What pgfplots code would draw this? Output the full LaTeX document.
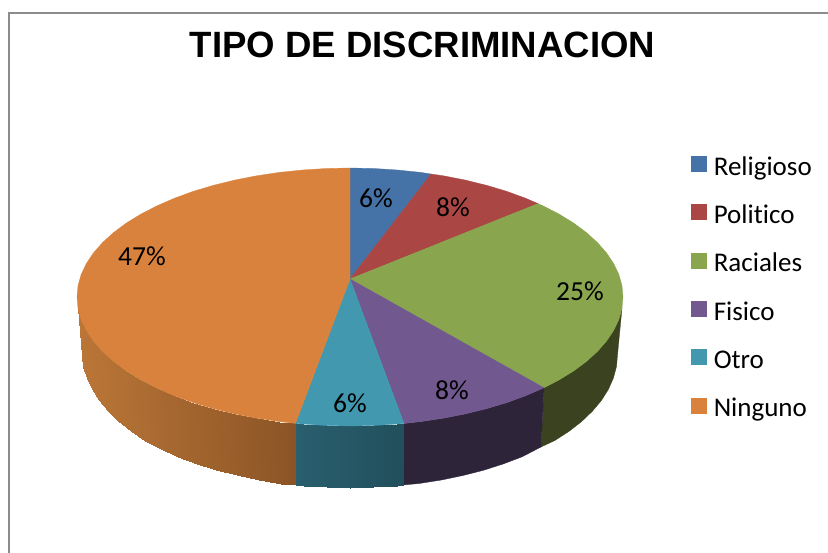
\documentclass[border=0pt]{standalone}
\usepackage{fontspec}
\setmainfont{Carlito}[Ligatures=NoCommon]
\setsansfont{Liberation Sans}
\usepackage{pgfplots}
\pgfplotsset{compat=1.18}
\definecolor{cRel}{HTML}{4572A7}
\definecolor{cPol}{HTML}{AA4643}
\definecolor{cRac}{HTML}{89A54E}
\definecolor{cFis}{HTML}{71588F}
\definecolor{cOtr}{HTML}{4198AF}
\definecolor{cNin}{HTML}{D9823D}
\definecolor{wRac}{HTML}{3A421F}
\definecolor{wFis}{HTML}{2E2439}
\begin{document}
\begin{tikzpicture}
\useasboundingbox (0,0) rectangle (828pt,553pt);
\begin{axis}[
  at={(0,0)}, anchor=south west,
  scale only axis, width=828pt, height=553pt,
  xmin=0, xmax=828, ymin=0, ymax=553, y dir=reverse,
  hide axis, clip=true,
  colormap={wall}{rgb255(0)=(186,118,55); rgb255(100)=(139,84,38); rgb255(101)=(42,95,111); rgb255(200)=(33,79,91)},
  point meta min=0, point meta max=200,
  legend style={at={(axis cs:691,156)}, anchor=north west, draw=none, fill=none,
    inner sep=0pt, outer sep=0pt, row sep=23.2pt, column sep=7.5pt,
    font=\fontsize{27}{27}\selectfont,
    nodes={inner sep=0pt, outer sep=0pt, text height=18pt, text depth=6pt}},
  legend cell align=left,
  legend image code/.code={\fill[#1] (0pt,-2pt) rectangle (15pt,13pt);},
]
% frame
\addplot[forget plot, color=black!45, line width=1.6pt] coordinates {(9,553) (9,13) (828,13)};
% walls
\addplot[forget plot, fill=wRac, draw=wRac, line width=0.3pt] coordinates {(622,308.2) (618.9,319.4) (613.7,330.4) (606.5,341.1) (597.4,351.5) (586.4,361.5) (573.6,371) (559.1,379.9) (544,387.8) (541,447) (554.9,440.5) (569.1,431.3) (581.7,421.5) (592.4,411.2) (601.4,400.5) (608.4,389.4) (613.4,378.1) (616.5,366.6) (617.5,355)} --cycle;
\addplot[forget plot, fill=wFis, draw=wFis, line width=0.3pt] coordinates {(544,387.8) (525.5,395.8) (506.6,402.7) (486.5,408.7) (465.4,413.9) (443.4,418.2) (420.7,421.6) (404,423.5) (403,485) (419.2,483.5) (441.5,480) (463,475.5) (483.8,470.2) (503.4,463.9) (521.9,456.9) (541,447)} --cycle;
\addplot[forget plot, patch, patch type=rectangle, shader=interp, point meta=explicit] table[meta=c] {
x y c
78 308.2 0
78 308.2 0
83.5 366.6 0
82.5 355 0
78 308.2 0
81.1 319.4 1.4
86.6 378.1 1.4
83.5 366.6 0
81.1 319.4 1.4
86.3 330.4 3.8
91.6 389.4 3.8
86.6 378.1 1.4
86.3 330.4 3.8
93.5 341.1 7
98.6 400.5 7
91.6 389.4 3.8
93.5 341.1 7
102.6 351.5 11
107.6 411.2 11
98.6 400.5 7
102.6 351.5 11
113.6 361.5 16
118.3 421.5 16
107.6 411.2 11
113.6 361.5 16
126.4 371 22
130.9 431.3 22
118.3 421.5 16
126.4 371 22
140.9 379.9 29
145.1 440.5 29
130.9 431.3 22
140.9 379.9 29
157 388.2 36
160.8 449 36
145.1 440.5 29
157 388.2 36
174.5 395.8 44
178.1 456.9 44
160.8 449 36
174.5 395.8 44
193.4 402.7 53
196.6 463.9 53
178.1 456.9 44
193.4 402.7 53
213.5 408.7 62
216.2 470.2 62
196.6 463.9 53
213.5 408.7 62
234.6 413.9 72
237 475.5 72
216.2 470.2 62
234.6 413.9 72
256.6 418.2 82
258.5 480 82
237 475.5 72
256.6 418.2 82
279.3 421.6 92
280.8 483.5 92
258.5 480 82
279.3 421.6 92
295.5 423.4 100
296 484.9 100
280.8 483.5 92
295.5 423.4 101
302.6 424 110
303.5 486 110
296 484.9 101
302.6 424 110
326.2 425.5 130
326.7 487.5 130
303.5 486 110
326.2 425.5 130
350 426 150
350 488 150
326.7 487.5 130
350 426 150
373.8 425.5 170
373.3 487.5 170
350 488 150
373.8 425.5 170
397.4 424 190
396.5 486 190
373.3 487.5 170
397.4 424 190
404 423.5 200
403 485 200
396.5 486 190
};
% top slices
\addplot[fill=cRel, draw=cRel, line width=0.3pt] coordinates {(350,279) (350,168) (373.8,168.5) (397.4,170) (420.7,172.4) (431,174)} --cycle;
\addplot[fill=cPol, draw=cPol, line width=0.3pt] coordinates {(350,279) (431,174) (443.4,175.8) (465.4,180.1) (486.5,185.3) (506.6,191.3) (525.5,198.2) (538,203.6)} --cycle;
\addplot[fill=cRac, draw=cRac, line width=0.3pt] coordinates {(350,279) (538,203.6) (543,205.8) (559.1,214.1) (573.6,223) (586.4,232.5) (597.4,242.5) (606.5,252.9) (613.7,263.6) (618.9,274.6) (622,285.8) (623,297) (622,308.2) (618.9,319.4) (613.7,330.4) (606.5,341.1) (597.4,351.5) (586.4,361.5) (573.6,371) (559.1,379.9) (544,387.8)} --cycle;
\addplot[fill=cFis, draw=cFis, line width=0.3pt] coordinates {(350,279) (544,387.8) (525.5,395.8) (506.6,402.7) (486.5,408.7) (465.4,413.9) (443.4,418.2) (420.7,421.6) (404,423.5)} --cycle;
\addplot[fill=cOtr, draw=cOtr, line width=0.3pt] coordinates {(350,279) (404,423.5) (397.4,424) (373.8,425.5) (350,426) (326.2,425.5) (302.6,424) (295.5,423.4)} --cycle;
\addplot[fill=cNin, draw=cNin, line width=0.3pt] coordinates {(350,279) (295.5,423.4) (279.3,421.6) (256.6,418.2) (234.6,413.9) (213.5,408.7) (193.4,402.7) (174.5,395.8) (157,388.2) (140.9,379.9) (126.4,371) (113.6,361.5) (102.6,351.5) (93.5,341.1) (86.3,330.4) (81.1,319.4) (78,308.2) (77,297) (78,285.8) (81.1,274.6) (86.3,263.6) (93.5,252.9) (102.6,242.5) (113.6,232.5) (126.4,223) (140.9,214.1) (157,205.8) (174.5,198.2) (193.4,191.3) (213.5,185.3) (234.6,180.1) (256.6,175.8) (279.3,172.4) (302.6,170) (326.2,168.5) (350,168)} --cycle;
\legend{Religioso,Politico,Raciales,Fisico,Otro,Ninguno}
% labels
\node[font=\fontsize{27.5}{27}\selectfont] at (axis cs:376,198) {6\%};
\node[font=\fontsize{27.5}{27}\selectfont] at (axis cs:453,207) {8\%};
\node[font=\fontsize{27.5}{27}\selectfont] at (axis cs:580,291) {25\%};
\node[font=\fontsize{27.5}{27}\selectfont] at (axis cs:452,390) {8\%};
\node[font=\fontsize{27.5}{27}\selectfont] at (axis cs:350,403) {6\%};
\node[font=\fontsize{27.5}{27}\selectfont] at (axis cs:142,256) {47\%};
\node[font=\sffamily\bfseries\fontsize{36.6}{40}\selectfont] at (axis cs:422.5,45) {TIPO DE DISCRIMINACION};
\end{axis}
\end{tikzpicture}
\end{document}
